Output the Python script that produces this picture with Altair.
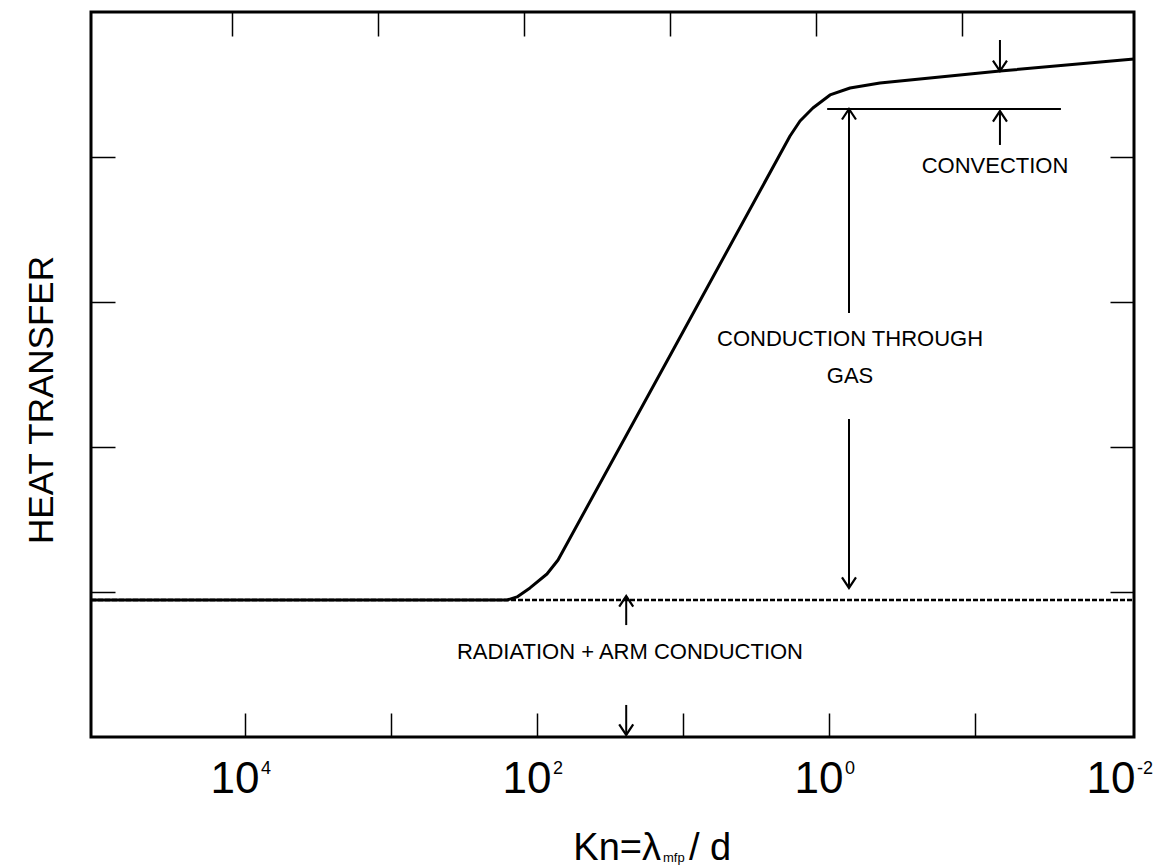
import altair as alt
import pandas as pd

FONT = "Liberation Sans, Arial, Helvetica, sans-serif"

# ---- data ----
curve_kn = [113500, 160.3, 137.1, 111.7, 85.5, 71.8, 11.5, 1.85, 1.58, 1.29, 0.984, 0.718, 0.448, 0.0675, 0.00815]
curve_q = [0.945, 0.945, 0.966, 1.028, 1.124, 1.221, 2.683, 4.145, 4.248, 4.338, 4.428, 4.476, 4.510, 4.593, 4.676]

baseline_kn = [113500, 0.00815]
baseline_q = [0.945, 0.945]

conv_ref_kn = [1.03, 0.0258]
conv_ref_q = [4.331, 4.331]

arrow_kn = [0.730, 0.730, 0.0675, 0.0675, 24.5, 24.5]
arrow_from = [2.924, 2.193, 4.807, 4.083, 0.772, 0.221]
arrow_to = [4.331, 1.028, 4.593, 4.317, 0.972, 0.014]

label_text = ["CONVECTION", "CONDUCTION THROUGH", "GAS", "RADIATION + ARM CONDUCTION"]
label_kn = [0.0730, 0.718, 0.718, 23.1]
label_q = [3.938, 2.745, 2.490, 0.586]

tick_values = [1e4, 1e3, 1e2, 1e1, 1e0, 1e-1]
y_tick_values = [1, 2, 3, 4]
decade_kn = [1e4, 1e2, 1e0, 1e-2]
decade_exp = ["4", "2", "0", "-2"]

X_DOMAIN = [0.00815, 113500]
Y_DOMAIN = [0, 5]

# ---- tables ----
curve_df = pd.DataFrame({"kn": curve_kn, "q": curve_q})
base_df = pd.DataFrame({"kn": baseline_kn, "q": baseline_q})
ref_df = pd.DataFrame({"kn": conv_ref_kn, "q": conv_ref_q})
arr_df = pd.DataFrame({"kn": arrow_kn, "q": arrow_from, "q2": arrow_to})
arr_df["dir"] = ["up" if b > a else "down" for a, b in zip(arrow_from, arrow_to)]
lab_df = pd.DataFrame({"kn": label_kn, "q": label_q, "t": label_text})
dec_df = pd.DataFrame({"kn": decade_kn, "e": decade_exp})

xs = alt.Scale(type="log", domain=X_DOMAIN, reverse=True, nice=False)
ys = alt.Scale(domain=Y_DOMAIN, nice=False, zero=False)

def xax(orient, shift=0):
    return alt.Axis(orient=orient, offset=-24, tickSize=24, labels=False, domain=False,
                    grid=False, values=tick_values, tickColor="black", tickWidth=1.5,
                    tickOffset=shift)

def yax(orient):
    return alt.Axis(orient=orient, offset=-24, tickSize=24, labels=False, domain=False,
                    grid=False, values=y_tick_values, tickColor="black", tickWidth=1.5)

X_NOAX = alt.X("kn:Q", scale=xs, axis=None)
Y_NOAX = alt.Y("q:Q", scale=ys, axis=None)

baseline = alt.Chart(base_df).mark_line(color="black", strokeWidth=2.5, strokeDash=[5, 2]).encode(
    x=alt.X("kn:Q", scale=xs, axis=xax("top", -13), title=None),
    y=alt.Y("q:Q", scale=ys, axis=yax("right"), title=None),
)

curve = alt.Chart(curve_df).mark_line(color="black", strokeWidth=3, interpolate="linear",
                                      strokeJoin="round").encode(
    x=alt.X("kn:Q", scale=xs, axis=xax("bottom"), title=None),
    y=alt.Y("q:Q", scale=ys, axis=yax("left"), title=None),
    order=alt.Order("q:Q"),
)

ref_line = alt.Chart(ref_df).mark_line(color="black", strokeWidth=2).encode(x=X_NOAX, y=Y_NOAX)

shafts = alt.Chart(arr_df).mark_rule(color="black", strokeWidth=2).encode(
    x=X_NOAX, y=Y_NOAX, y2="q2:Q"
)

UP = "M-1,1.5L0,0L1,1.5"
DOWN = "M-1,-1.5L0,0L1,-1.5"
heads = alt.Chart(arr_df).mark_point(filled=False, stroke="black", strokeWidth=2.2, opacity=1, size=196).encode(
    x=X_NOAX,
    y=alt.Y("q2:Q", scale=ys, axis=None),
    shape=alt.Shape("dir:N", scale=alt.Scale(domain=["up", "down"], range=[UP, DOWN]), legend=None),
)

labels = alt.Chart(lab_df).mark_text(font=FONT, fontSize=22, color="black", align="center",
                                     baseline="middle").encode(x=X_NOAX, y=Y_NOAX, text="t:N")

ten = alt.Chart(dec_df).mark_text(font=FONT, fontSize=44, color="black", align="center",
                                  baseline="alphabetic", dx=-10).encode(
    x=X_NOAX, y=alt.value(781), text=alt.value("10"))
exps = alt.Chart(dec_df).mark_text(font=FONT, fontSize=18, color="black", align="left",
                                   baseline="alphabetic", dx=16).encode(
    x=X_NOAX, y=alt.value(762), text="e:N")

one = pd.DataFrame({"a": [0]})
ytitle = alt.Chart(one).mark_text(font=FONT, fontSize=35, color="black", angle=270,
                                  align="center", baseline="middle").encode(
    x=alt.value(-49), y=alt.value(388), text=alt.value("HEAT TRANSFER"))
kn1 = alt.Chart(one).mark_text(font=FONT, fontSize=38, color="black", align="right",
                               baseline="alphabetic").encode(
    x=alt.value(570), y=alt.value(848), text=alt.value("Kn=λ"))
kn2 = alt.Chart(one).mark_text(font=FONT, fontSize=13, color="black", align="left",
                               baseline="alphabetic").encode(
    x=alt.value(572), y=alt.value(850), text=alt.value("mfp"))
kn3 = alt.Chart(one).mark_text(font=FONT, fontSize=38, color="black", align="left",
                               baseline="alphabetic").encode(
    x=alt.value(598), y=alt.value(848), text=alt.value("/ d"))

chart = alt.layer(
    baseline, curve, ref_line, shafts, heads, labels, ten, exps, ytitle, kn1, kn2, kn3
).resolve_axis(x="independent", y="independent").properties(
    width=1043, height=725,
    autosize=alt.AutoSizeParams(type="none"),
    padding={"left": 83, "top": 4, "right": 23, "bottom": 130},
    background="white",
).configure_view(stroke="black", strokeWidth=3)

chart.save("out.html", embed_options={"renderer": "svg", "actions": False})
